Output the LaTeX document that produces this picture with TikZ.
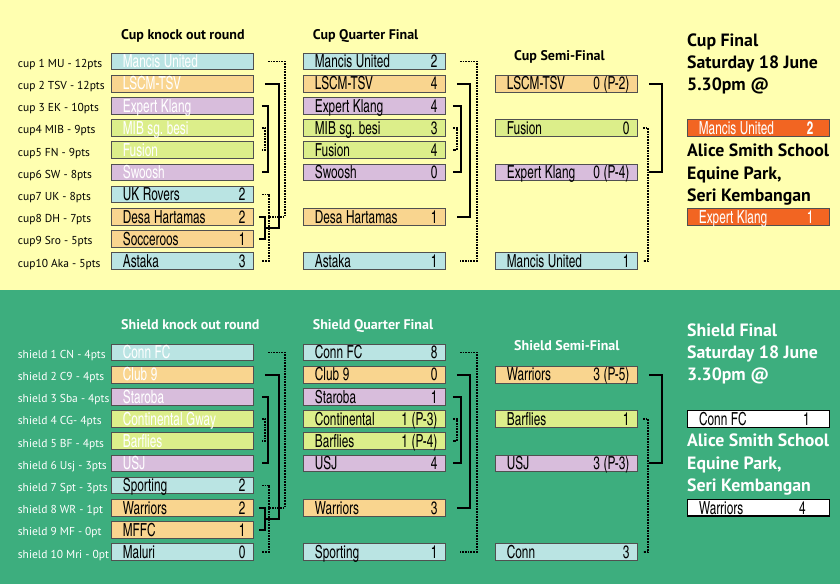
\documentclass[tikz,border=0pt]{standalone}
\usepackage{fontspec}
\setmainfont{PT Sans}
\newfontfamily\boxfont{texgyreheroscn-regular.otf}[BoldFont=texgyreheroscn-bold.otf, FakeStretch=0.8]
\usetikzlibrary{calc}

\definecolor{cupbg}{HTML}{FFFFB0}
\definecolor{shieldbg}{HTML}{3DAE7E}
\definecolor{teamcyan}{HTML}{BAE4E3}
\definecolor{teamorange}{HTML}{F9D58F}
\definecolor{teamlilac}{HTML}{D8BDDC}
\definecolor{teamlime}{HTML}{DCEE8A}
\definecolor{finalred}{HTML}{F26522}
\definecolor{boxline}{HTML}{505050}

% name on the left, score on the right
\newcommand{\tmrow}[2]{\spaceskip=3.6pt\relax\hspace*{3.5pt}#1\hfill#2\hspace*{-4pt}}

\tikzset{
  team/.style={draw=boxline, line width=0.8pt, anchor=west, inner xsep=8pt,
    inner ysep=0pt, text width=126pt, minimum height=16.7pt,
    text height=13.8pt, text depth=1.2pt,
    font=\boxfont\fontsize{18}{18}\selectfont\frenchspacing},
  cyanteam/.style={team, fill=teamcyan},
  orangeteam/.style={team, fill=teamorange},
  lilacteam/.style={team, fill=teamlilac},
  limeteam/.style={team, fill=teamlime},
  bye/.style={text=white},
  seedlabel/.style={anchor=base west, inner sep=0pt, font=\fontsize{11.5}{12}\selectfont},
  roundtitle/.style={anchor=base west, inner sep=0pt, font=\bfseries\fontsize{14}{15}\selectfont},
  % anchored at the baseline of the last line
  finaltitle/.style={anchor=base west, inner sep=0pt, align=left,
    font=\bfseries\fontsize{17.8}{22.3}\selectfont},
  winline/.style={line width=2pt},
  lossline/.style={line width=1.8pt, dash pattern=on 1.7pt off 1pt},
}

\begin{document}
\begin{tikzpicture}[x=1pt,y=-1pt]
  \useasboundingbox (0,0) rectangle (840,584);
  \fill[cupbg] (0,0) rectangle (840,290);
  \fill[shieldbg] (0,290) rectangle (840,584);

  % ---------------- cup ----------------
  \node[roundtitle] (cuptitle1) at (121,39.3) {Cup knock out round};
  \node[roundtitle] (cuptitle2) at (312.7,39.3) {Cup Quarter Final};
  \node[roundtitle] (cuptitle3) at (514,60) {Cup Semi-Final};
  \node[finaltitle] (cuptitle4) at (687,90.6) {Cup Final\\Saturday 18 June\\5.30pm @};
  \node[finaltitle] (cupvenue) at (687,201.3) {Alice Smith School\\Equine Park,\\Seri Kembangan};

  \begin{scope}[every node/.style={seedlabel}]
    \node (cl1)  at (17.7,67.4)  {cup 1 MU - 12pts};
    \node (cl2)  at (17.7,89.6)  {cup 2 TSV - 12pts};
    \node (cl3)  at (17.7,111.8) {cup 3 EK - 10pts};
    \node (cl4)  at (17.7,133.9) {cup4 MIB - 9pts};
    \node (cl5)  at (17.7,156.1) {cup5 FN - 9pts};
    \node (cl6)  at (17.7,178.3) {cup6 SW - 8pts};
    \node (cl7)  at (17.7,200.5) {cup7 UK - 8pts};
    \node (cl8)  at (17.7,222.7) {cup8 DH - 7pts};
    \node (cl9)  at (17.7,244.8) {cup9 Sro - 5pts};
    \node (cl10) at (17.7,267)   {cup10 Aka - 5pts};
  \end{scope}

  \node[cyanteam, bye]   (ck1)  at (111,61.4)  {\tmrow{Mancis United}{}};
  \node[orangeteam, bye] (ck2)  at (111,83.6)  {\tmrow{LSCM-TSV}{}};
  \node[lilacteam, bye]  (ck3)  at (111,105.8) {\tmrow{Expert Klang}{}};
  \node[limeteam, bye]   (ck4)  at (111,127.9) {\tmrow{MIB sg. besi}{}};
  \node[limeteam, bye]   (ck5)  at (111,150.1) {\tmrow{Fusion}{}};
  \node[lilacteam, bye]  (ck6)  at (111,172.3) {\tmrow{Swoosh}{}};
  \node[cyanteam]        (ck7)  at (111,194.5) {\tmrow{UK Rovers}{2}};
  \node[orangeteam]      (ck8)  at (111,216.7) {\tmrow{Desa Hartamas}{2}};
  \node[orangeteam]      (ck9)  at (111,238.8) {\tmrow{Socceroos}{1}};
  \node[cyanteam]        (ck10) at (111,261)   {\tmrow{Astaka}{3}};

  \node[cyanteam]   (cq1)  at (303,61.4)  {\tmrow{Mancis United}{2}};
  \node[orangeteam] (cq2)  at (303,83.6)  {\tmrow{LSCM-TSV}{4}};
  \node[lilacteam]  (cq3)  at (303,105.8) {\tmrow{Expert Klang}{4}};
  \node[limeteam]   (cq4)  at (303,127.9) {\tmrow{MIB sg. besi}{3}};
  \node[limeteam]   (cq5)  at (303,150.1) {\tmrow{Fusion}{4}};
  \node[lilacteam]  (cq6)  at (303,172.3) {\tmrow{Swoosh}{0}};
  \node[orangeteam] (cq8)  at (303,216.7) {\tmrow{Desa Hartamas}{1}};
  \node[cyanteam]   (cq10) at (303,261)   {\tmrow{Astaka}{1}};

  \node[orangeteam] (cs2)  at (495,83.6)  {\tmrow{LSCM-TSV}{0 (P-2)}};
  \node[limeteam]   (cs4)  at (495,127.9) {\tmrow{Fusion}{0}};
  \node[lilacteam]  (cs6)  at (495,172.3) {\tmrow{Expert Klang}{0 (P-4)}};
  \node[cyanteam]   (cs10) at (495,261)   {\tmrow{Mancis United}{1}};

  \node[team, fill=finalred, text=white] (cf1) at (687,127.9) {\tmrow{Mancis United}{\textbf{2}\hspace*{12pt}}};
  \node[team, fill=finalred, text=white] (cf2) at (687,216.7) {\tmrow{Expert Klang}{1\hspace*{12pt}}};

  \draw[lossline] ([xshift=14pt]ck1.east) -| ([xshift=31pt]ck8.east) -- ([xshift=14pt]ck8.east);
  \draw[winline] ([xshift=5pt]ck8.east) -- ++(6,0) |- ([xshift=5pt]ck9.east);
  \coordinate (ck89) at ($(ck8.east)!0.5!(ck9.east)+(11,0)$);
  \draw[winline] ([xshift=11pt]ck2.east) -| ([xshift=14pt]ck89) -- (ck89);
  \draw[winline] ([xshift=8pt]ck3.east) -- ++(6,0) |- ([xshift=8pt]ck6.east);
  \draw[lossline] ([xshift=8pt]ck4.east) -- ++(3,0) |- ([xshift=8pt]ck5.east);
  \draw[lossline] ([xshift=8pt]ck7.east) -- ++(7,0) |- ([xshift=8pt]ck10.east);

  \draw[lossline] ([xshift=14pt]cq1.east) -- ++(17,0) |- ([xshift=14pt]cq10.east);
  \draw[winline] ([xshift=11pt]cq2.east) -- ++(13,0) |- ([xshift=11pt]cq8.east);
  \draw[winline] ([xshift=7pt]cq3.east) -- ++(8,0) |- ([xshift=7pt]cq6.east);
  \draw[lossline] ([xshift=7pt]cq4.east) -- ++(4,0) |- ([xshift=7pt]cq5.east);

  \draw[winline] ([xshift=11pt]cs2.east) -- ++(13,0) |- ([xshift=11pt]cs6.east);
  \draw[lossline] ([xshift=5pt]cs4.east) -- ++(5,0) |- ([xshift=5pt]cs10.east);

  % ---------------- shield ----------------
  \begin{scope}[every node/.append style={text=white}]
    \node[roundtitle] (shieldtitle1) at (121,329) {Shield knock out round};
    \node[roundtitle] (shieldtitle2) at (312.7,329) {Shield Quarter Final};
    \node[roundtitle] (shieldtitle3) at (514,350) {Shield Semi-Final};
    \node[finaltitle] (shieldtitle4) at (687,380.6) {Shield Final\\Saturday 18 June\\3.30pm @};
    \node[finaltitle] (shieldvenue) at (687,491.3) {Alice Smith School\\Equine Park,\\Seri Kembangan};
  \end{scope}

  \begin{scope}[every node/.style={seedlabel, text=white}]
    \node (sl1)  at (17.7,358.4) {shield 1 CN - 4pts};
    \node (sl2)  at (17.7,380.6) {shield 2 C9 - 4pts};
    \node (sl3)  at (17.7,402.8) {shield 3 Sba - 4pts};
    \node (sl4)  at (17.7,424.9) {shield 4 CG- 4pts};
    \node (sl5)  at (17.7,447.1) {shield 5 BF - 4pts};
    \node (sl6)  at (17.7,469.3) {shield 6 Usj - 3pts};
    \node (sl7)  at (17.7,491.5) {shield 7 Spt - 3pts};
    \node (sl8)  at (17.7,513.7) {shield 8 WR - 1pt};
    \node (sl9)  at (17.7,535.8) {shield 9 MF - 0pt};
    \node (sl10) at (17.7,558)   {shield 10 Mri - 0pt};
  \end{scope}

  \node[cyanteam, bye]   (sk1)  at (111,352.4) {\tmrow{Conn FC}{}};
  \node[orangeteam, bye] (sk2)  at (111,374.6) {\tmrow{Club 9}{}};
  \node[lilacteam, bye]  (sk3)  at (111,396.8) {\tmrow{Staroba}{}};
  \node[limeteam, bye]   (sk4)  at (111,418.9) {\tmrow{Continental Gway}{}};
  \node[limeteam, bye]   (sk5)  at (111,441.1) {\tmrow{Barflies}{}};
  \node[lilacteam, bye]  (sk6)  at (111,463.3) {\tmrow{USJ}{}};
  \node[cyanteam]        (sk7)  at (111,485.5) {\tmrow{Sporting}{2}};
  \node[orangeteam]      (sk8)  at (111,507.7) {\tmrow{Warriors}{2}};
  \node[orangeteam]      (sk9)  at (111,529.8) {\tmrow{MFFC}{1}};
  \node[cyanteam]        (sk10) at (111,552)   {\tmrow{Maluri}{0}};

  \node[cyanteam]   (sq1)  at (303,352.4) {\tmrow{Conn FC}{8}};
  \node[orangeteam] (sq2)  at (303,374.6) {\tmrow{Club 9}{0}};
  \node[lilacteam]  (sq3)  at (303,396.8) {\tmrow{Staroba}{1}};
  \node[limeteam]   (sq4)  at (303,418.9) {\tmrow{Continental}{1 (P-3)}};
  \node[limeteam]   (sq5)  at (303,441.1) {\tmrow{Barflies}{1 (P-4)}};
  \node[lilacteam]  (sq6)  at (303,463.3) {\tmrow{USJ}{4}};
  \node[orangeteam] (sq8)  at (303,507.7) {\tmrow{Warriors}{3}};
  \node[cyanteam]   (sq10) at (303,552)   {\tmrow{Sporting}{1}};

  \node[orangeteam] (ss2)  at (495,374.6) {\tmrow{Warriors}{3 (P-5)}};
  \node[limeteam]   (ss4)  at (495,418.9) {\tmrow{Barflies}{1}};
  \node[lilacteam]  (ss6)  at (495,463.3) {\tmrow{USJ}{3 (P-3)}};
  \node[cyanteam]   (ss10) at (495,552)   {\tmrow{Conn}{3}};

  \node[team, fill=white, draw=black, line width=1.2pt] (sf1) at (687,418.9) {\tmrow{Conn FC}{1\hspace*{12pt}}};
  \node[team, fill=white, draw=black, line width=1.2pt] (sf2) at (687,507.7) {\tmrow{Warriors}{4\hspace*{16pt}}};

  \draw[lossline] ([xshift=14pt]sk1.east) -| ([xshift=31pt]sk8.east) -- ([xshift=14pt]sk8.east);
  \draw[winline] ([xshift=5pt]sk8.east) -- ++(6,0) |- ([xshift=5pt]sk9.east);
  \coordinate (sk89) at ($(sk8.east)!0.5!(sk9.east)+(11,0)$);
  \draw[winline] ([xshift=11pt]sk2.east) -| ([xshift=14pt]sk89) -- (sk89);
  \draw[winline] ([xshift=8pt]sk3.east) -- ++(6,0) |- ([xshift=8pt]sk6.east);
  \draw[lossline] ([xshift=8pt]sk4.east) -- ++(3,0) |- ([xshift=8pt]sk5.east);
  \draw[lossline] ([xshift=8pt]sk7.east) -- ++(7,0) |- ([xshift=8pt]sk10.east);

  \draw[lossline] ([xshift=14pt]sq1.east) -- ++(17,0) |- ([xshift=14pt]sq10.east);
  \draw[winline] ([xshift=11pt]sq2.east) -- ++(13,0) |- ([xshift=11pt]sq8.east);
  \draw[winline] ([xshift=7pt]sq3.east) -- ++(8,0) |- ([xshift=7pt]sq6.east);
  \draw[lossline] ([xshift=7pt]sq4.east) -- ++(4,0) |- ([xshift=7pt]sq5.east);

  \draw[winline] ([xshift=11pt]ss2.east) -- ++(13,0) |- ([xshift=11pt]ss6.east);
  \draw[lossline] ([xshift=5pt]ss4.east) -- ++(5,0) |- ([xshift=5pt]ss10.east);
\end{tikzpicture}
\end{document}
